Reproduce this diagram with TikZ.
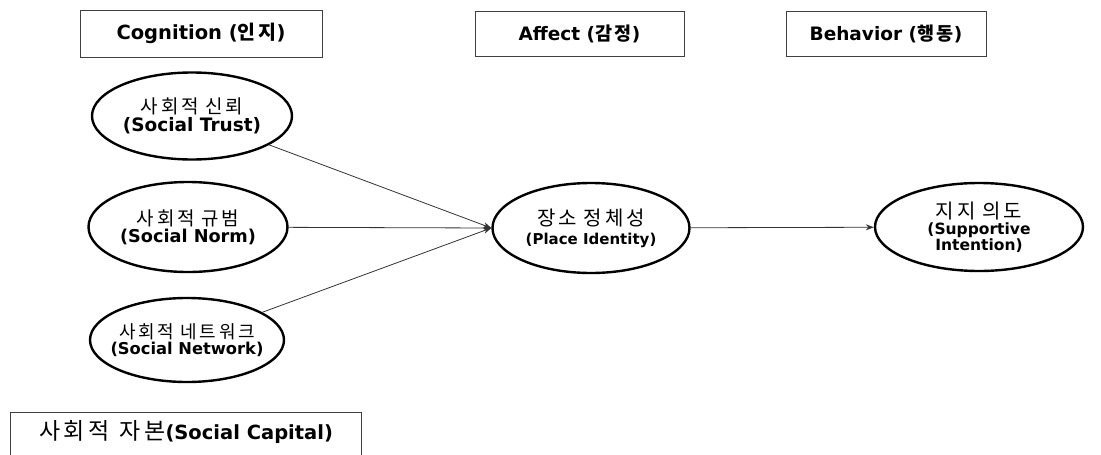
\documentclass[tikz,border=0pt]{standalone}
\usepackage{fontspec}
\setmainfont{DejaVu Sans}
\newfontfamily\krfont[LetterSpace=15]{Noto Sans CJK KR}
\usetikzlibrary{shapes.geometric,arrows.meta}

% Korean text in the CJK face (regular weight), at the current size
\newcommand{\kr}[1]{{\krfont\mdseries #1}}
% Korean text in the CJK face, bold
\newcommand{\krb}[1]{{\krfont\bfseries #1}}
% word gap inside Korean text
\newcommand{\ksp}{\hspace{0.35em}}
\newcommand{\sz}[1]{\fontsize{#1}{#1}\selectfont}

\tikzset{
  headbox/.style={draw=black!75, line width=1pt, inner sep=0pt,
    font=\bfseries\sz{18.5}},
  construct/.style={ellipse, draw=black, line width=2.4pt, inner sep=-15pt,
    align=center, font=\bfseries},
  arrowline/.style={draw=black!80, line width=0.8pt,
    -{Stealth[length=8pt,width=6pt]}},
}

\begin{document}
\begin{tikzpicture}[x=1pt,y=-1pt]
\useasboundingbox (0,0) rectangle (1101,455);
\clip (0,0) rectangle (1101,455);

% stage headings
\node (cog) [headbox, minimum width=242pt, minimum height=47pt] at (201,33.5) {\sz{19.5}Cognition (\krb{인지})};
\node (aff) [headbox, minimum width=209pt, minimum height=45pt] at (579.5,33.5) {Affect (\krb{감정})};
\node (beh) [headbox, minimum width=200pt, minimum height=45pt] at (886,33.5) {Behavior (\krb{행동})};

% constructs
\node (trust) [construct, minimum width=200pt, minimum height=87pt] at (192,116)
  {\sz{19}\kr{사회적}\ksp\kr{신뢰}\\[1pt]\sz{18.5}(Social Trust)};
\node (norm) [construct, minimum width=199pt, minimum height=90pt] at (188,227)
  {\sz{19}\kr{사회적}\ksp\kr{규범}\\[1pt]\sz{17.7}(Social Norm)};
\node (net) [construct, minimum width=194pt, minimum height=84pt] at (187,340)
  {\sz{18}\kr{사회적}\ksp\kr{네트워크}\\[1pt]\sz{16.3}(Social Network)};
\node (place) [construct, minimum width=197pt, minimum height=90pt] at (591,228)
  {\sz{20}\kr{장소}\ksp\kr{정체성}\\[5pt]\sz{15}(Place Identity)};
\node (supp) [construct, minimum width=208pt, minimum height=88pt] at (979,227)
  {\sz{20}\kr{지지}\ksp\kr{의도}\\[2pt]\sz{15.5}(Supportive\\\sz{15.5}Intention)};

% paths between constructs
\draw[arrowline] (trust) -- (place.west);
\draw[arrowline] (norm) -- (place.west);
\draw[arrowline] (net) -- (place.west);
\draw[arrowline] (place) -- (supp);

% overall concept
\node (capital) [headbox, anchor=north west, minimum width=351pt,
  text height=17pt, text depth=40pt, inner ysep=10pt,
  font=\bfseries\sz{19}] at (10,412)
  {\sz{23}\kr{사회적}\hspace{0.45em}\kr{자본}\sz{19.5}(Social Capital)};
\end{tikzpicture}
\end{document}
